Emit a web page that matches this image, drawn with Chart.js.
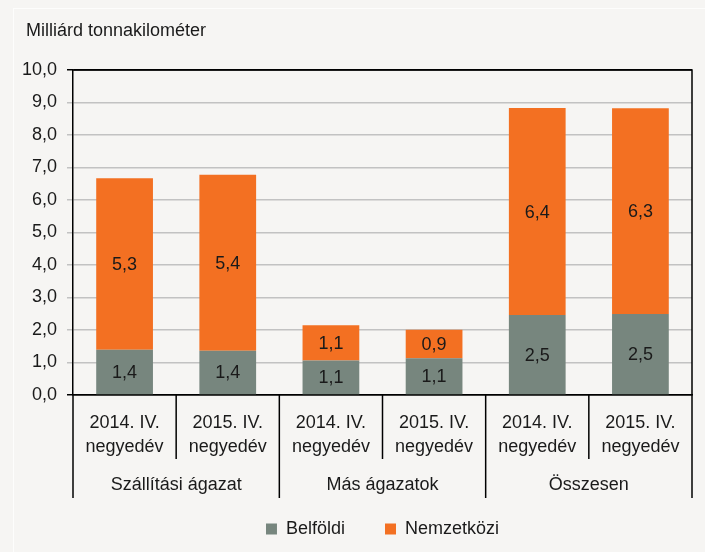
<!DOCTYPE html>
<html>
<head>
<meta charset="utf-8">
<script src="https://cdn.jsdelivr.net/npm/chart.js@4"></script>
<style>
  html, body { margin: 0; padding: 0; background: #f6f5f3; }
  #wrap { width: 705px; height: 552px; }
</style>
</head>
<body>
<div id="wrap"><canvas id="barChart" width="705" height="552"></canvas></div>
<script>
// adatok
var cim = 'Milliárd tonnakilométer';
var kategoriak = [['2014. IV.', 'negyedév'], ['2015. IV.', 'negyedév'],
                  ['2014. IV.', 'negyedév'], ['2015. IV.', 'negyedév'],
                  ['2014. IV.', 'negyedév'], ['2015. IV.', 'negyedév']];
var csoportok = ['Szállítási ágazat', 'Más ágazatok', 'Összesen'];
var belfoldi = [1.39, 1.36, 1.06, 1.13, 2.46, 2.49];
var nemzetkozi = [5.28, 5.42, 1.09, 0.88, 6.37, 6.33];
var yTicks = [0, 1, 2, 3, 4, 5, 6, 7, 8, 9, 10];

var betu = '"Liberation Sans", Arial, sans-serif';
Chart.defaults.font.family = betu;
Chart.defaults.font.size = 18;
Chart.defaults.color = '#1a1a1a';

function vesszo(v) {
    return Number(v).toFixed(1).replace('.', ',');
}

// háttér, cím, keret, csoportcímkék, elválasztók, értékcímkék
var rajzolo = {
    id: 'rajzolo',
    beforeDraw: function(chart) {
        var c = chart.ctx;
        c.save();
        c.fillStyle = '#f6f5f3';
        c.fillRect(0, 0, chart.width, chart.height);
        c.strokeStyle = '#fdfdfc';
        c.lineWidth = 1;
        c.beginPath();
        c.moveTo(13.5, 8); c.lineTo(13.5, chart.height);
        c.moveTo(13, 8.5); c.lineTo(chart.width, 8.5);
        c.stroke();
        c.restore();
    },
    afterDraw: function(chart) {
        var c = chart.ctx;
        var a = chart.chartArea;
        var x = chart.scales.x;
        var lepes = x.getPixelForValue(1) - x.getPixelForValue(0);
        c.save();
        c.fillStyle = '#1a1a1a';
        c.font = '18px ' + betu;
        c.textBaseline = 'middle';
        c.textAlign = 'left';
        c.fillText(cim, 26, 31);
        c.strokeStyle = '#000';
        c.lineWidth = 1.5;
        // felső és jobb keret
        c.beginPath();
        c.moveTo(a.left, a.top); c.lineTo(a.right, a.top); c.lineTo(a.right, a.bottom);
        c.stroke();
        // elválasztó vonalak
        for (var k = 0; k <= kategoriak.length; k++) {
            var px = x.getPixelForValue(0) - lepes / 2 + k * lepes;
            var alj = (k % 2 === 0) ? a.bottom + 103 : a.bottom + 64;
            c.beginPath();
            c.moveTo(px, a.bottom); c.lineTo(px, alj);
            c.stroke();
        }
        // csoportcímkék
        c.textAlign = 'center';
        csoportok.forEach(function(g, i) {
            var cx = (x.getPixelForValue(2 * i) + x.getPixelForValue(2 * i + 1)) / 2;
            c.fillText(g, cx, a.bottom + 90);
        });
        // értékcímkék a sávokon
        chart.data.datasets.forEach(function(ds, di) {
            var meta = chart.getDatasetMeta(di);
            meta.data.forEach(function(bar, j) {
                var cy = (bar.y + bar.base) / 2;
                c.fillText(vesszo(ds.data[j]), bar.x, cy + 1);
            });
        });
        c.restore();
    }
};

var ctx = document.getElementById('barChart').getContext('2d');
var myChart = new Chart(ctx, {
    type: 'bar',
    data: {
        labels: kategoriak,
        datasets: [{
            label: 'Belföldi',
            data: belfoldi,
            backgroundColor: '#77867e',
            borderWidth: 0
        }, {
            label: 'Nemzetközi',
            data: nemzetkozi,
            backgroundColor: '#f37022',
            borderWidth: 0
        }]
    },
    options: {
        responsive: false,
        animation: false,
        layout: { padding: { left: 13, right: 13, top: 70, bottom: 4 } },
        datasets: { bar: { barPercentage: 1, categoryPercentage: 0.55 } },
        plugins: {
            legend: {
                position: 'bottom',
                fullSize: false,
                labels: {
                    boxWidth: 11,
                    boxHeight: 11,
                    padding: 40,
                    color: '#1a1a1a',
                    font: { size: 18 }
                }
            },
            tooltip: { enabled: false }
        },
        scales: {
            x: {
                stacked: true,
                grid: { display: false },
                border: { color: '#000', width: 1.5 },
                ticks: { padding: 8, color: '#1a1a1a', font: { size: 18, lineHeight: 1.33 } },
                afterFit: function(s) { s.height = 85; }
            },
            y: {
                stacked: true,
                min: 0,
                max: 10,
                afterBuildTicks: function(s) {
                    s.ticks = yTicks.map(function(v) { return { value: v }; });
                },
                afterFit: function(s) { s.width = 60; },
                border: { color: '#000', width: 1.5 },
                grid: {
                    color: function(c) {
                        return (c.tick && (c.tick.value === 0 || c.tick.value === 10)) ? '#000' : '#c2c2c2';
                    },
                    lineWidth: 1.5,
                    tickLength: 6
                },
                ticks: {
                    padding: 10,
                    color: '#1a1a1a',
                    callback: function(v) { return vesszo(v); }
                }
            }
        }
    },
    plugins: [rajzolo]
});
</script>
</body>
</html>
